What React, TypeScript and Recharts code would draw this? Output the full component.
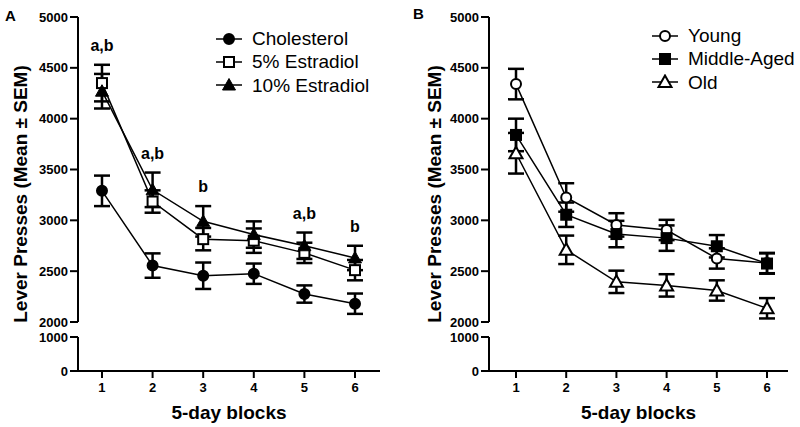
import { LineChart, Line, XAxis, YAxis, ErrorBar, Legend, LabelList } from 'recharts'

// 5-day blocks on the x axis
const blocks = [1, 2, 3, 4, 5, 6]

// Panel A: hormone treatment groups
const cholesterol = [3290, 2555, 2455, 2475, 2275, 2180]
const cholesterolSem = [150, 120, 130, 100, 85, 100]
const estradiol5 = [4350, 3185, 2815, 2800, 2680, 2510]
const estradiol5Sem = [180, 110, 110, 120, 100, 100]
const estradiol10 = [4270, 3300, 2990, 2860, 2750, 2630]
const estradiol10Sem = [170, 170, 150, 130, 130, 120]
const sigLabels = ['a,b', 'a,b', 'b', '', 'a,b', 'b']

// Panel B: age groups
const young = [4340, 3225, 2955, 2905, 2625, 2580]
const youngSem = [150, 140, 115, 100, 100, 100]
const middleAged = [3840, 3055, 2865, 2825, 2745, 2575]
const middleAgedSem = [160, 120, 130, 125, 110, 100]
const old = [3660, 2710, 2395, 2360, 2310, 2135]
const oldSem = [200, 140, 110, 110, 100, 100]

const upperTicks = [2000, 2500, 3000, 3500, 4000, 4500, 5000]
const lowerTicks = [0, 1000]
const xTicks = [1, 2, 3, 4, 5, 6]

const font = '"Liberation Sans", Arial, Helvetica, sans-serif'

type Shape = 'circleFilled' | 'circleOpen' | 'squareFilled' | 'squareOpen' | 'triangleFilled' | 'triangleOpen'

interface Series {
  key: string
  name: string
  values: number[]
  sem: number[]
  shape: Shape
}

const seriesA: Series[] = [
  { key: 'cholesterol', name: 'Cholesterol', values: cholesterol, sem: cholesterolSem, shape: 'circleFilled' },
  { key: 'estradiol5', name: '5% Estradiol', values: estradiol5, sem: estradiol5Sem, shape: 'squareOpen' },
  { key: 'estradiol10', name: '10% Estradiol', values: estradiol10, sem: estradiol10Sem, shape: 'triangleFilled' },
]

const seriesB: Series[] = [
  { key: 'young', name: 'Young', values: young, sem: youngSem, shape: 'circleOpen' },
  { key: 'middleAged', name: 'Middle-Aged', values: middleAged, sem: middleAgedSem, shape: 'squareFilled' },
  { key: 'old', name: 'Old', values: old, sem: oldSem, shape: 'triangleOpen' },
]

function Marker({ cx, cy, shape }: { cx: number; cy: number; shape: Shape }) {
  const fill = shape.endsWith('Filled') ? '#000' : '#fff'
  if (shape.startsWith('circle')) {
    return <circle cx={cx} cy={cy} r={5} fill={fill} stroke="#000" strokeWidth={2} />
  }
  if (shape.startsWith('square')) {
    return <rect x={cx - 5} y={cy - 5} width={10} height={10} fill={fill} stroke="#000" strokeWidth={2} />
  }
  return (
    <polygon
      points={`${cx},${cy - 6.5} ${cx + 6.5},${cy + 5} ${cx - 6.5},${cy + 5}`}
      fill={fill}
      stroke="#000"
      strokeWidth={shape === 'triangleOpen' ? 2 : 1}
    />
  )
}

const tickStyle = { fill: '#000', fontSize: 13, fontWeight: 'bold' as const, fontFamily: font }
const axisLine = { stroke: '#000', strokeWidth: 2 }

interface PanelProps {
  left: number
  letter: string
  letterX: number
  letterY: number
  titleX: number
  series: Series[]
  sig?: string[]
  xDomain: [number, number]
  yWidth: number
  rightMargin: number
  legendLeft: number
  legendTop: number
}

function Panel({ left, letter, letterX, letterY, titleX, series, sig, xDomain, yWidth, rightMargin, legendLeft, legendTop }: PanelProps) {
  const rows = blocks.map((b, i) => {
    const row: Record<string, number | string> = { block: b, sig: sig ? sig[i] : '' }
    series.forEach(s => {
      row[s.key] = s.values[i]
      row[s.key + 'Sem'] = s.sem[i]
    })
    return row
  })

  const topOfBars = (d: Record<string, number>) =>
    Math.max(...series.map(s => d[s.key] + d[s.key + 'Sem']))

  const renderLegend = () => (
    <div style={{ fontFamily: font, fontSize: 19, color: '#000' }}>
      {series.map(s => (
        <div key={s.key} style={{ display: 'flex', alignItems: 'center', height: 23.3 }}>
          <svg width={26} height={16}>
            <line x1={0} y1={8} x2={26} y2={8} stroke="#000" strokeWidth={1.5} />
            <Marker cx={13} cy={8} shape={s.shape} />
          </svg>
          <span style={{ marginLeft: 10, lineHeight: '23px' }}>{s.name}</span>
        </div>
      ))}
    </div>
  )

  return (
    <div style={{ position: 'absolute', left, top: 0, width: 400, height: 427 }}>
      <div style={{ position: 'absolute', left: 0, top: 0 }}>
        <LineChart width={400} height={330} data={rows} margin={{ top: 17, right: rightMargin, bottom: 8, left: 0 }}>
          <XAxis dataKey="block" type="number" domain={xDomain} ticks={xTicks} hide />
          <YAxis
            type="number"
            domain={[2000, 5000]}
            ticks={upperTicks}
            interval={0}
            width={yWidth}
            tick={tickStyle}
            tickSize={8}
            tickMargin={2}
            axisLine={axisLine}
            tickLine={axisLine}
          />
          <Legend
            layout="vertical"
            verticalAlign="middle"
            align="center"
            wrapperStyle={{ left: legendLeft, top: legendTop, width: 'auto' }}
            content={renderLegend}
          />
          {series.map(s => (
            <Line
              key={s.key}
              dataKey={s.key}
              name={s.name}
              stroke="#000"
              strokeWidth={1.5}
              isAnimationActive={false}
              activeDot={false}
              dot={(p: any) => <Marker key={s.key + p.index} cx={p.cx} cy={p.cy} shape={s.shape} />}
            >
              <ErrorBar dataKey={s.key + 'Sem'} direction="y" width={8} stroke="#000" strokeWidth={2.5} />
            </Line>
          ))}
          {sig && (
            <Line
              dataKey={topOfBars as any}
              stroke="none"
              dot={false}
              activeDot={false}
              legendType="none"
              isAnimationActive={false}
            >
              <LabelList
                dataKey="sig"
                content={(p: any) =>
                  p.value ? (
                    <text
                      x={p.x}
                      y={p.y - 14}
                      textAnchor="middle"
                      fontFamily={font}
                      fontWeight="bold"
                      fontSize={16}
                      fill="#000"
                    >
                      {p.value}
                    </text>
                  ) : null
                }
              />
            </Line>
          )}
        </LineChart>
      </div>
      <div style={{ position: 'absolute', left: 0, top: 330 }}>
        <LineChart width={400} height={97} data={rows} margin={{ top: 7, right: rightMargin, bottom: 0, left: 0 }}>
          <XAxis
            dataKey="block"
            type="number"
            domain={xDomain}
            ticks={xTicks}
            interval={0}
            height={56}
            tick={tickStyle}
            tickSize={7}
            tickMargin={5}
            axisLine={axisLine}
            tickLine={axisLine}
            label={{
              value: '5-day blocks',
              position: 'insideBottom',
              offset: 8.5,
              style: { fill: '#000', fontSize: 19, fontWeight: 'bold', fontFamily: font },
            }}
          />
          <YAxis
            type="number"
            domain={[0, 1000]}
            allowDataOverflow
            ticks={lowerTicks}
            interval={0}
            width={yWidth}
            tick={tickStyle}
            tickSize={8}
            tickMargin={2}
            axisLine={axisLine}
            tickLine={axisLine}
          />
          {/* the lower segment holds no points; this keeps the axes scaled */}
          <Line dataKey={series[0].key} stroke="none" dot={false} activeDot={false} isAnimationActive={false} />
        </LineChart>
      </div>
      <svg width={400} height={427} style={{ position: 'absolute', left: 0, top: 0, pointerEvents: 'none' }}>
        <text x={letterX} y={letterY} fontFamily={font} fontWeight="bold" fontSize={15} fill="#000">
          {letter}
        </text>
        <text
          transform={`translate(${titleX},194) rotate(-90)`}
          dy="0.35em"
          textAnchor="middle"
          fontFamily={font}
          fontWeight="bold"
          fontSize={19}
          fill="#000"
        >
          Lever Presses (Mean ± SEM)
        </text>
      </svg>
    </div>
  )
}

export default function App() {
  return (
    <div style={{ position: 'absolute', left: 0, top: 0, width: 800, height: 427, background: '#fff', fontFamily: font }}>
      <Panel
        left={0}
        letter="A"
        letterX={5}
        letterY={21}
        titleX={20}
        series={seriesA}
        sig={sigLabels}
        xDomain={[0.526, 6.494]}
        yWidth={78}
        rightMargin={20}
        legendLeft={216}
        legendTop={27}
      />
      <Panel
        left={400}
        letter="B"
        letterX={13}
        letterY={19}
        titleX={34}
        series={seriesB}
        xDomain={[0.462, 6.418]}
        yWidth={89}
        rightMargin={12}
        legendLeft={252}
        legendTop={24}
      />
    </div>
  )
}
